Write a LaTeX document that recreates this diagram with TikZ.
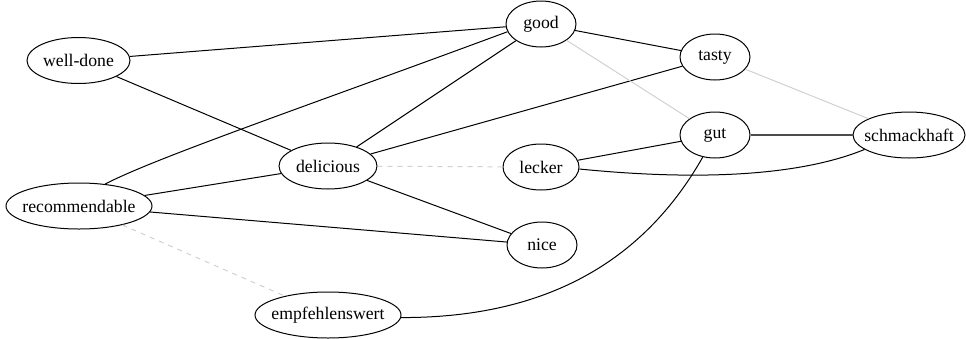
\documentclass[tikz,border=0pt]{standalone}
\usepackage{fontspec}
\setmainfont{Liberation Serif}
\usetikzlibrary{shapes.geometric}
\begin{document}
\begin{tikzpicture}[x=1pt,y=-1pt,
  word/.style={draw,ellipse,line width=1pt,inner sep=0pt,minimum height=46pt,
    label={[font=\fontsize{17.7}{20}\selectfont,inner sep=0pt]center:#1}},
  edge/.style={line width=1pt},
  transl/.style={line width=1pt,draw=black!18},
  dtransl/.style={line width=1pt,draw=black!18,dash pattern=on 5pt off 5pt}]
\useasboundingbox (0,0) rectangle (966,338);
\node[word=good,minimum width=70pt]  (good) at (541,24) {};
\node[word=well-done,minimum width=103pt] (welldone) at (78.5,60.5) {};
\node[word=delicious,minimum width=98pt]  (delicious) at (328,166) {};
\node[word=recommendable,minimum width=146pt] (rec) at (79,206) {};
\node[word=empfehlenswert,minimum width=146pt] (empf) at (328,315) {};
\node[word=lecker,minimum width=76pt]  (lecker) at (541,167) {};
\node[word=nice,minimum width=70pt]  (nice) at (542,245) {};
\node[word=tasty,minimum width=70pt]  (tasty) at (715,57) {};
\node[word=gut,minimum width=70pt]  (gut) at (715,135) {};
\node[word=schmackhaft,minimum width=112pt] (schmack) at (909,135) {};

\draw[edge] (welldone) -- (good);
\draw[edge] (welldone) -- (delicious);
\draw[edge] (rec.40) .. controls (155,158) and (307,106) .. (good.193);
\draw[edge] (rec) -- (delicious);
\draw[edge] (rec) -- (nice);
\draw[dtransl] (rec) -- (empf);
\draw[edge] (delicious) -- (good);
\draw[edge] (delicious) -- (tasty);
\draw[dtransl] (delicious) -- (lecker);
\draw[edge] (delicious) -- (nice);
\draw[edge] (good) -- (tasty);
\draw[transl] (good) -- (gut);
\draw[transl] (tasty) -- (schmack);
\draw[line width=1.5pt,draw=black!70] (gut) -- (schmack);
\draw[edge] (lecker) -- (gut);
\draw[edge] (lecker.357) .. controls (650,176) and (780,184) .. (schmack.198);
\draw[edge] (empf.358) .. controls (560,318) and (650,250) .. (gut.241);
\end{tikzpicture}
\end{document}
